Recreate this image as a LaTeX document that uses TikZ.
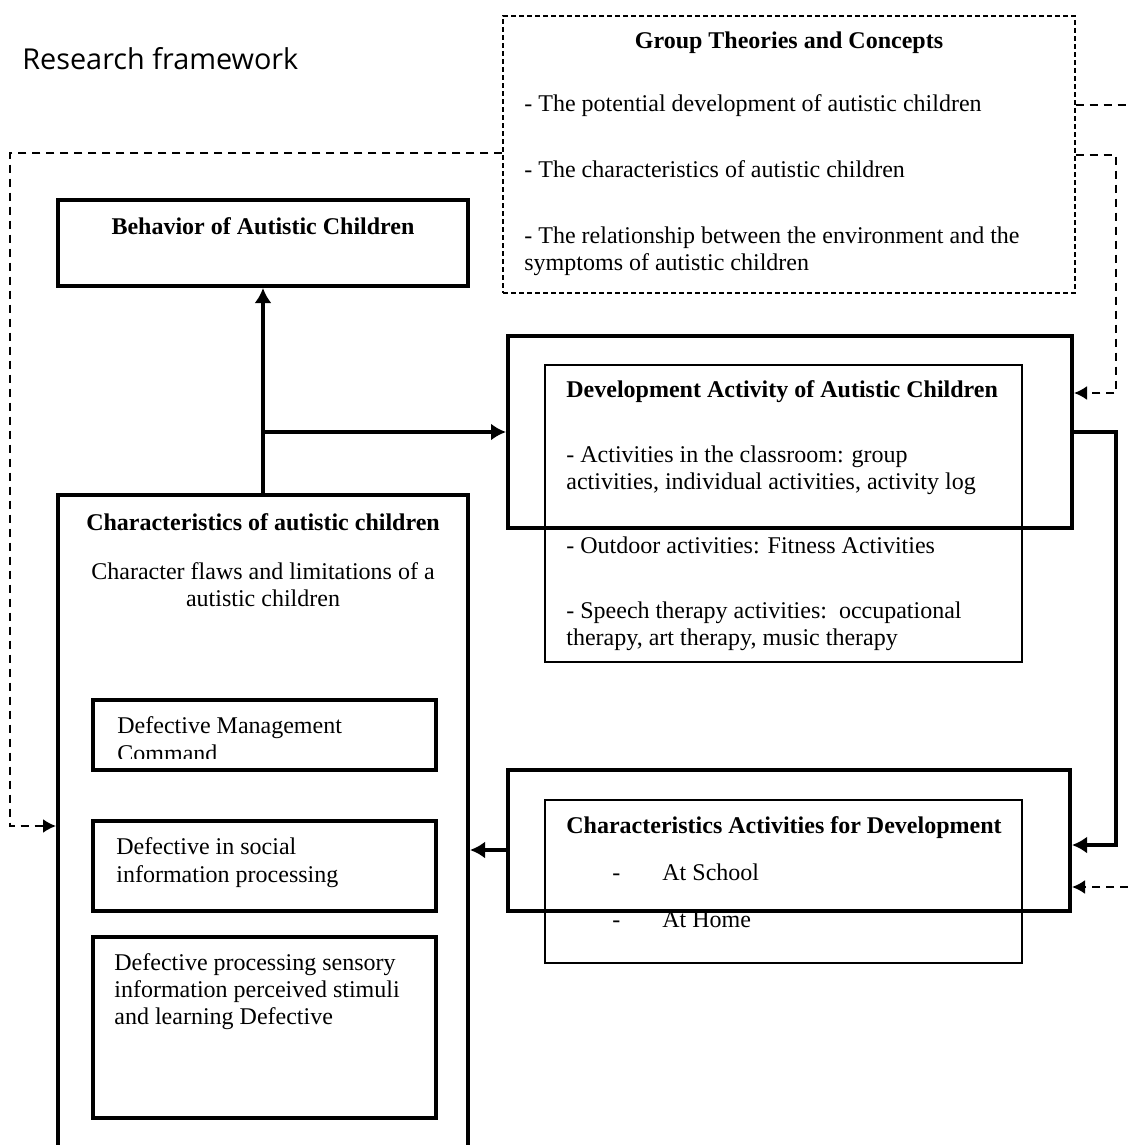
\documentclass[tikz,border=0pt]{standalone}
\usepackage{fontspec}
\setmainfont{Liberation Serif}
\newfontfamily\headfont{Open Sans}
\usetikzlibrary{arrows.meta,fit}

\tikzset{
  thickbox/.style={draw, line width=2pt, inner sep=0pt},
  thinbox/.style={draw, line width=0.6pt, inner sep=0pt},
  dashbox/.style={draw, line width=0.6pt, dash pattern=on 2.5pt off 1.5pt, inner sep=0pt},
  txt/.style={font=\fontsize{12}{13.5}\selectfont, inner sep=0pt, anchor=base west},
  btxt/.style={txt, font=\fontsize{12}{13.5}\selectfont\bfseries},
  ctxt/.style={txt, anchor=base},
  cbtxt/.style={btxt, anchor=base},
  flow/.style={line width=2pt, -{Latex[length=7.5pt,width=8.5pt]}},
  dline/.style={line width=1pt, dash pattern=on 4pt off 3pt},
  dflow/.style={dline, -{Latex[length=6.5pt,width=7pt]}}
}

\begin{document}
\begin{tikzpicture}[x=0.5pt, y=-0.5pt]
\useasboundingbox (0,0) rectangle (1128,1145);
\clip (0,0) rectangle (1128,1145);

% heading
\node[anchor=base west, inner sep=0pt, font=\headfont\fontsize{14.4}{16}\selectfont] (head) at (22,70) {Research framework};

% theories box
\node[dashbox, fit={(503,16) (1075,293)}] (group) {};
\node[cbtxt] (gtitle) at (789,49) {Group Theories and Concepts};
\node[txt] (g1) at (524,112) {- The potential development of autistic children};
\node[txt] (g2) at (524,177) {- The characteristics of autistic children};
\node[txt] (g3) at (524,243) {- The relationship between the environment and the};
\node[txt] (g3b) at (524,270) {symptoms of autistic children};

% behaviour box
\node[thickbox, fit={(58,200) (468,286)}] (behav) {};
\node[cbtxt] (btitle) at (263,234) {Behavior of Autistic Children};

% development activity box
\node[thinbox, fit={(545,365) (1022,662)}] (devin) {};
\node[thickbox, fit={(508,336) (1072,528)}] (dev) {};
\node[btxt] (dtitle) at (566,397) {Development Activity of Autistic Children};
\node[txt] (d1) at (566,462) {- Activities in the classroom: group};
\node[txt] (d1b) at (566,489) {activities, individual activities, activity log};
\node[txt] (d2) at (566,553) {- Outdoor activities: Fitness Activities};
\node[txt] (d3) at (566,618) {- Speech therapy activities:\ \ occupational};
\node[txt] (d3b) at (566,645) {therapy, art therapy, music therapy};

% characteristics activities box
\node[thinbox, fit={(545,800) (1022,963)}] (chin) {};
\node[btxt] (ctitle) at (566,833) {Characteristics Activities for Development};
\node[txt] (cdash1) at (612,880) {-};
\node[txt] (c1) at (662,880) {At School};
\node[txt] (cdash2) at (612,927) {-};
\node[txt] (c2) at (662,927) {At Home};
\node[thickbox, fit={(508,770) (1070,911)}] (chact) {};

% characteristics of autistic children
\node[thickbox, fit={(58,495) (468,1170)}] (charL) {};
\node[cbtxt] (ltitle) at (263,530) {Characteristics of autistic children};
\node[ctxt] (l1) at (263,579) {Character flaws and limitations of a};
\node[ctxt] (l1b) at (263,606) {autistic children};

\node[thickbox, fit={(93,700) (436,770)}] (mgmt) {};
\node[txt] (m1) at (117,733) {Defective Management};
\begin{scope}
  \clip (95,740) rectangle (434,758);
  \node[txt] (m1b) at (117,761) {Command};
\end{scope}

\node[thickbox, fit={(93,821) (436,911)}] (social) {};
\node[txt] (s1) at (116,854) {Defective in social};
\node[txt] (s1b) at (116,882) {information processing};

\node[thickbox, fit={(93,937) (436,1118)}] (sensory) {};
\node[txt] (p1) at (114,970) {Defective processing sensory};
\node[txt] (p1b) at (114,997) {information perceived stimuli};
\node[txt] (p1c) at (114,1024) {and learning Defective};

% solid connectors
\coordinate (split) at (263,432);
\draw[flow] (charL.north) -- (behav.south);
\draw[flow] (split) -- (dev.west);
\coordinate (rturn) at (1116,845);
\draw[flow] (dev.east) -| (rturn) -- (rturn -| chact.east);
\draw[flow] (chact.west |- 0,850) -- (charL.east |- 0,850);

% dashed connectors
\coordinate (lturn) at (10,826);
\draw[dflow] (group.west |- 0,153) -| (lturn) -- (lturn -| charL.west);
\coordinate (edgeA) at (1128,105);
\draw[dline] (group.east |- edgeA) -- (edgeA);
\coordinate (rturnB) at (1116,393);
\draw[dflow] (group.east |- 0,155) -| (rturnB) -- (rturnB -| dev.east);
\coordinate (edgeB) at (1128,887);
\draw[dflow] (edgeB) -- (edgeB -| chact.east);
\end{tikzpicture}
\end{document}
